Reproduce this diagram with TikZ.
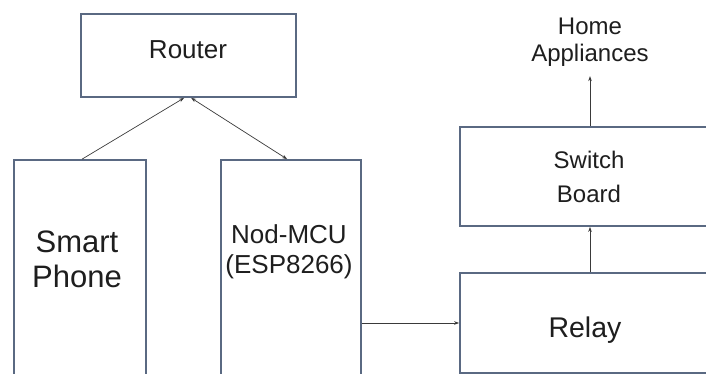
\documentclass[tikz,border=0pt]{standalone}
\usepackage{fontspec}
\setmainfont{Liberation Sans}
\usetikzlibrary{arrows.meta,calc}
\definecolor{boxline}{HTML}{5A6982}
\definecolor{ink}{HTML}{1E1E1E}
\definecolor{wire}{HTML}{3A3A3A}
\begin{document}
\begin{tikzpicture}[x=1pt,y=-1pt,
  >={Stealth[length=5pt,width=3.6pt]},
  box/.style={draw=boxline, line width=1.8pt, fill=white, inner sep=0pt},
  lbl/.style={text=ink, align=center, inner sep=0pt, anchor=base},
  arr/.style={draw=wire, line width=0.7pt, ->}]
\useasboundingbox (0,0) rectangle (706,374);
\clip (0,0) rectangle (706,374);
\fill[white] (0,0) rectangle (706,374);

% blocks (the tall ones and the right-hand ones run off the page edge)
\node[box, minimum width=215pt, minimum height=83pt] (router) at (188.5,55.5) {};
\node[box, minimum width=132pt, minimum height=240pt] (phone) at (80,280) {};
\node[box, minimum width=140pt, minimum height=240pt] (mcu) at (291,280) {};
\node[box, minimum width=260pt, minimum height=99pt] (switch) at (590,176.5) {};
\node[box, minimum width=260pt, minimum height=100pt] (relay) at (590,323) {};

% block labels (a multi-line label is placed by the baseline of its last line)
\node[lbl, font=\fontsize{26}{30}\selectfont] (routertxt) at (188,59) {Router};
\node[lbl, font=\fontsize{31}{35}\selectfont] (phonetxt) at (77,287) {Smart\\Phone};
\node[lbl, font=\fontsize{26}{30}\selectfont] (mcutxt) at (289,273) {Nod-MCU\\(ESP8266)};
\node[lbl, font=\fontsize{24}{33}\selectfont] (switchtxt) at (589,202) {Switch\\Board};
\node[lbl, font=\fontsize{28.5}{34}\selectfont] (relaytxt) at (585,337) {Relay};
\node[lbl, font=\fontsize{24}{27}\selectfont] (home) at (590,62) {Home\\Appliances};

% connections
\draw[arr] ([xshift=69pt]phone.north west) -- ([xshift=104pt]router.south west);
\draw[arr, <->] ([xshift=111pt]router.south west) -- ([xshift=67pt]mcu.north west);
\draw[arr] (relay.west -| mcu.east) -- (relay.west);
\draw[arr] (relay.north) -- (switch.south);
\draw[arr, shorten >=9pt] (switch.north) -- (home.south);
\end{tikzpicture}
\end{document}
